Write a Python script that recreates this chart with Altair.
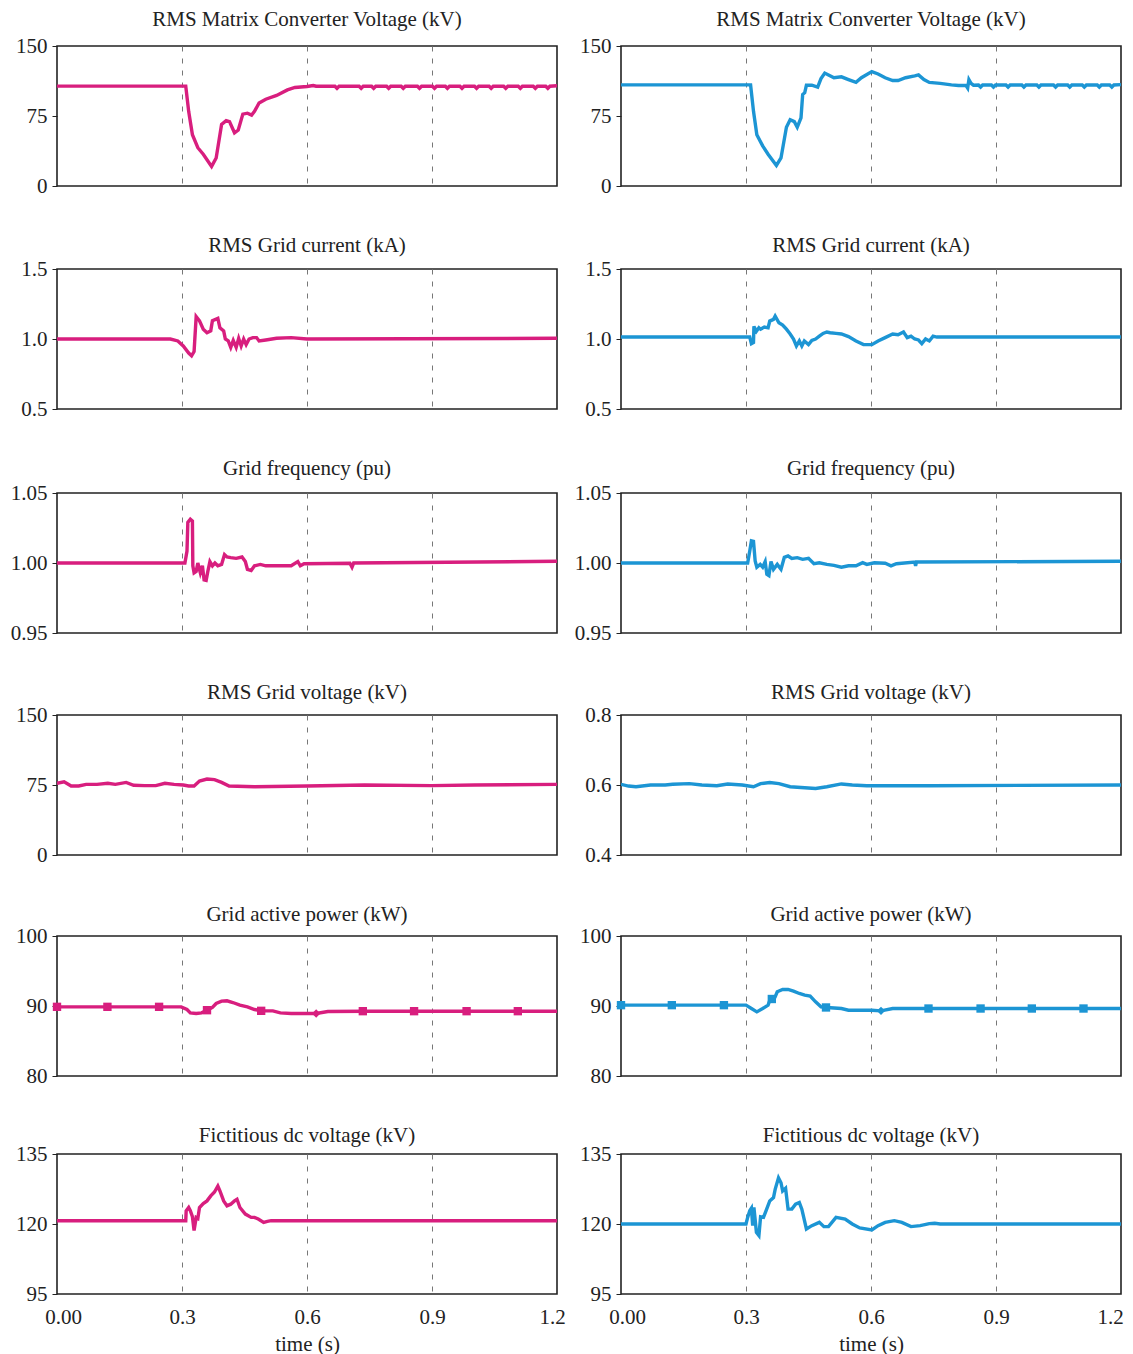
import altair as alt
import pandas as pd

MAGENTA = "#d81e7e"
BLUE = "#1c95d4"
FONT = "Liberation Serif"
INK = "#222222"

time_ticks = [0.0, 0.3, 0.6, 0.9, 1.2]

titles = [
    "RMS Matrix Converter Voltage (kV)",
    "RMS Grid current (kA)",
    "Grid frequency (pu)",
    "RMS Grid voltage (kV)",
    "Grid active power (kW)",
    "Fictitious dc voltage (kV)",
]

# ---------- Row 1: RMS Matrix Converter Voltage ----------
r1l_t = [0.000, 0.309, 0.316, 0.325, 0.338, 0.351, 0.371, 0.382, 0.395, 0.406, 0.414, 0.426, 0.435,
         0.446, 0.457, 0.467, 0.474, 0.485, 0.501, 0.527, 0.553, 0.571, 0.600, 0.615, 0.622,
         0.667, 0.672, 0.677, 0.725, 0.730, 0.735, 0.755, 0.760, 0.765, 0.791, 0.796, 0.801,
         0.826, 0.831, 0.836, 0.865, 0.870, 0.875, 0.901, 0.906, 0.911, 0.932, 0.937, 0.942,
         0.967, 0.972, 0.977, 1.002, 1.007, 1.012, 1.037, 1.042, 1.047, 1.072, 1.077, 1.082,
         1.107, 1.112, 1.117, 1.143, 1.148, 1.153, 1.173, 1.178, 1.183, 1.200]
r1l_v = [107.0, 107.0, 80.0, 55.0, 41.0, 34.0, 21.0, 30.0, 66.0, 70.0, 69.0, 57.0, 60.0,
         77.0, 78.0, 76.0, 80.0, 89.0, 93.0, 97.0, 103.0, 105.6, 106.6, 107.6, 106.9,
         106.9, 104.7, 106.9, 106.9, 104.7, 106.9, 106.9, 104.7, 106.9, 106.9, 104.7, 106.9,
         106.9, 104.7, 106.9, 106.9, 104.7, 106.9, 106.9, 104.7, 106.9, 106.9, 104.7, 106.9,
         106.9, 104.7, 106.9, 106.9, 104.7, 106.9, 106.9, 104.7, 106.9, 106.9, 104.7, 106.9,
         106.9, 104.7, 106.9, 106.9, 104.7, 106.9, 106.9, 104.7, 106.9, 107.4]

r1r_t = [0.000, 0.311, 0.318, 0.326, 0.340, 0.353, 0.373, 0.384, 0.397, 0.406, 0.416, 0.423, 0.432,
         0.436, 0.441, 0.445, 0.458, 0.472, 0.480, 0.489, 0.498, 0.511, 0.529, 0.546, 0.564,
         0.577, 0.602, 0.617, 0.634, 0.652, 0.665, 0.683, 0.705, 0.714, 0.727, 0.740, 0.766,
         0.793, 0.810, 0.828, 0.832, 0.835, 0.840, 0.846,
         0.858, 0.863, 0.868, 0.889, 0.894, 0.899, 0.924, 0.929, 0.934, 0.962, 0.967, 0.972,
         0.998, 1.003, 1.008, 1.038, 1.043, 1.048, 1.072, 1.077, 1.082, 1.107, 1.112, 1.117,
         1.143, 1.148, 1.153, 1.173, 1.178, 1.183, 1.200]
r1r_v = [108.4, 108.4, 80.0, 55.0, 43.0, 34.0, 22.0, 30.0, 63.0, 71.0, 69.0, 63.0, 73.0,
         98.0, 100.0, 108.0, 108.0, 106.0, 115.0, 121.0, 119.0, 116.0, 117.0, 114.0, 111.0,
         116.0, 122.6, 120.0, 116.0, 113.0, 113.0, 116.0, 118.0, 119.0, 114.0, 111.0, 110.0,
         108.4, 107.7, 107.7, 105.0, 114.0, 110.0, 108.0,
         108.2, 106.0, 108.2, 108.2, 106.0, 108.2, 108.2, 106.0, 108.2, 108.2, 106.0, 108.2,
         108.2, 106.0, 108.2, 108.2, 106.0, 108.2, 108.2, 106.0, 108.2, 108.2, 106.0, 108.2,
         108.2, 106.0, 108.2, 108.2, 106.0, 108.2, 108.6]

# ---------- Row 2: RMS Grid current ----------
r2l_t = [0.000, 0.272, 0.290, 0.303, 0.316, 0.323, 0.329, 0.334, 0.342, 0.351,
         0.360, 0.369, 0.373, 0.386, 0.391, 0.400, 0.404, 0.411, 0.417, 0.423,
         0.430, 0.436, 0.442, 0.448, 0.454, 0.461, 0.470, 0.479, 0.485, 0.501,
         0.527, 0.562, 0.600, 1.200]
r2l_v = [1.000, 1.000, 0.986, 0.950, 0.900, 0.880, 0.910, 1.160, 1.130, 1.070,
         1.045, 1.058, 1.130, 1.147, 1.080, 1.058, 1.000, 0.986, 0.940, 0.990,
         0.940, 1.005, 0.950, 1.000, 0.960, 1.000, 1.010, 1.010, 0.986, 0.993,
         1.005, 1.010, 1.000, 1.005]

r2r_t = [0.000, 0.309, 0.313, 0.318, 0.319, 0.325, 0.331, 0.335, 0.344, 0.353,
         0.357, 0.366, 0.370, 0.379, 0.388, 0.397, 0.406, 0.414, 0.421, 0.428,
         0.434, 0.440, 0.450, 0.458, 0.467, 0.476, 0.485, 0.494, 0.502, 0.516,
         0.529, 0.546, 0.564, 0.582, 0.602, 0.617, 0.634, 0.652, 0.665, 0.678,
         0.687, 0.696, 0.705, 0.714, 0.722, 0.731, 0.740, 0.749, 0.758, 1.200]
r2r_v = [1.014, 1.014, 0.967, 0.975, 1.090, 1.055, 1.080, 1.070, 1.085, 1.080,
         1.128, 1.140, 1.163, 1.116, 1.100, 1.070, 1.036, 1.000, 0.950, 0.986,
         0.950, 0.986, 0.960, 0.990, 1.000, 1.020, 1.040, 1.050, 1.045, 1.040,
         1.036, 1.017, 0.986, 0.960, 0.960, 0.986, 1.010, 1.036, 1.030, 1.050,
         1.010, 1.020, 1.000, 0.993, 0.967, 1.000, 0.986, 1.020, 1.014, 1.014]

# ---------- Row 3: Grid frequency ----------
r3l_t = [0.000, 0.307, 0.312, 0.314, 0.320, 0.325, 0.326, 0.329, 0.334, 0.338,
         0.344, 0.349, 0.353, 0.358, 0.362, 0.367, 0.373, 0.379, 0.386, 0.395,
         0.402, 0.408, 0.417, 0.430, 0.444, 0.452, 0.457, 0.466, 0.474, 0.488,
         0.501, 0.562, 0.578, 0.584, 0.593, 0.703, 0.708, 0.712, 1.200]
r3l_v = [1.0000, 1.0000, 1.0086, 1.0290, 1.0313, 1.0300, 0.9980, 0.9930, 0.9940, 1.0000,
         0.9930, 0.9980, 0.9880, 0.9876, 0.9940, 1.0010, 0.9980, 1.0000, 0.9980, 0.9990,
         1.0060, 1.0043, 1.0038, 1.0033, 1.0043, 1.0010, 0.9955, 0.9947, 0.9980, 0.9990,
         0.9980, 0.9980, 1.0010, 0.9980, 0.9995, 0.9998, 0.9970, 1.0000, 1.0012]

r3r_t = [0.000, 0.304, 0.309, 0.313, 0.318, 0.322, 0.326, 0.334, 0.340, 0.346,
         0.350, 0.355, 0.360, 0.366, 0.375, 0.384, 0.392, 0.401, 0.410, 0.423,
         0.436, 0.450, 0.463, 0.476, 0.494, 0.511, 0.529, 0.546, 0.564, 0.580,
         0.590, 0.608, 0.634, 0.648, 0.661, 0.705, 0.707, 0.709, 1.200]
r3r_v = [1.0000, 1.0000, 1.0086, 1.0158, 1.0155, 1.0014, 0.9970, 0.9990, 0.9970, 1.0010,
         0.9920, 0.9910, 1.0010, 0.9955, 0.9990, 0.9955, 1.0040, 1.0050, 1.0033, 1.0038,
         1.0026, 1.0033, 0.9995, 1.0002, 0.9990, 0.9983, 0.9970, 0.9980, 0.9980, 1.0002,
         0.9990, 1.0002, 0.9998, 0.9980, 0.9995, 1.0007, 0.9980, 1.0007, 1.0012]

# ---------- Row 4: RMS Grid voltage ----------
r4l_t = [0.000, 0.017, 0.034, 0.052, 0.070, 0.096, 0.122, 0.140, 0.166, 0.184,
         0.210, 0.237, 0.259, 0.281, 0.303, 0.316, 0.329, 0.342, 0.360, 0.378,
         0.395, 0.413, 0.474, 0.600, 0.738, 0.899, 1.002, 1.200]
r4l_v = [76.8, 78.5, 73.9, 73.9, 75.7, 75.7, 76.8, 75.7, 77.8, 74.7,
         74.3, 74.3, 76.8, 75.7, 75.0, 73.9, 73.9, 79.2, 81.4, 80.7,
         77.8, 73.9, 73.2, 74.0, 75.0, 74.3, 75.0, 75.7]

r4r_t = [0.000, 0.018, 0.036, 0.071, 0.106, 0.124, 0.164, 0.194, 0.230, 0.256,
         0.291, 0.318, 0.335, 0.357, 0.379, 0.406, 0.432, 0.467, 0.494, 0.529,
         0.555, 0.590, 0.740, 1.200]
r4r_v = [0.602, 0.597, 0.595, 0.600, 0.600, 0.602, 0.604, 0.600, 0.598, 0.603,
         0.600, 0.595, 0.604, 0.607, 0.604, 0.595, 0.593, 0.590, 0.595, 0.603,
         0.600, 0.598, 0.598, 0.600]

# ---------- Row 5: Grid active power ----------
r5l_t = [0.000, 0.298, 0.312, 0.320, 0.334, 0.347, 0.360, 0.373, 0.382, 0.395, 0.408, 0.422,
         0.439, 0.457, 0.474, 0.492, 0.518, 0.536, 0.562, 0.622, 0.650, 0.738, 1.200]
r5l_v = [89.88, 89.88, 89.50, 89.02, 88.93, 89.02, 89.40, 89.79, 90.36, 90.69, 90.74, 90.50,
         90.12, 89.88, 89.50, 89.31, 89.31, 89.02, 88.93, 88.93, 89.21, 89.26, 89.26]
r5l_mt = [0.000, 0.121, 0.245, 0.360, 0.490, 0.622, 0.734, 0.857, 0.983, 1.106]
r5l_mv = [89.88, 89.88, 89.88, 89.40, 89.31, 88.93, 89.26, 89.26, 89.26, 89.26]
r5l_ms = ["square", "square", "square", "square", "square", "diamond", "square", "square", "square", "square"]

r5r_t = [0.000, 0.300, 0.313, 0.326, 0.340, 0.353, 0.357, 0.362, 0.370, 0.375, 0.388, 0.401,
         0.414, 0.428, 0.441, 0.454, 0.467, 0.480, 0.494, 0.529, 0.546, 0.602, 0.624, 0.652, 1.200]
r5r_v = [90.12, 90.12, 89.64, 89.16, 89.64, 90.12, 90.80, 91.31, 91.31, 92.03, 92.36, 92.36,
         92.12, 91.79, 91.55, 91.41, 90.60, 89.88, 89.79, 89.64, 89.40, 89.40, 89.31, 89.64, 89.64]
r5r_mt = [0.000, 0.122, 0.247, 0.362, 0.492, 0.624, 0.738, 0.863, 0.986, 1.110]
r5r_mv = [90.12, 90.12, 90.12, 91.00, 89.79, 89.31, 89.64, 89.64, 89.64, 89.64]
r5r_ms = ["square", "square", "square", "square", "square", "diamond", "square", "square", "square", "square"]

# ---------- Row 6: Fictitious dc voltage ----------
r6l_t = [0.000, 0.309, 0.310, 0.316, 0.320, 0.325, 0.329, 0.334, 0.338, 0.342,
         0.351, 0.360, 0.369, 0.378, 0.386, 0.391, 0.400, 0.408, 0.417, 0.426,
         0.432, 0.439, 0.452, 0.466, 0.474, 0.483, 0.496, 0.505, 0.514, 1.200]
r6l_v = [121.18, 121.18, 124.72, 125.90, 124.72, 122.59, 117.64, 122.36, 122.00, 125.90,
         127.31, 128.25, 130.02, 131.44, 133.56, 131.79, 128.25, 126.49, 127.08, 128.25,
         128.84, 125.90, 123.54, 122.36, 122.36, 121.77, 120.59, 120.94, 121.18, 121.18]

r6r_t = [0.000, 0.300, 0.304, 0.309, 0.313, 0.316, 0.319, 0.325, 0.331, 0.335,
         0.342, 0.348, 0.357, 0.366, 0.370, 0.378, 0.384, 0.388, 0.395, 0.401,
         0.410, 0.419, 0.428, 0.434, 0.445, 0.458, 0.476, 0.487, 0.498, 0.516,
         0.538, 0.555, 0.573, 0.602, 0.617, 0.634, 0.656, 0.674, 0.696, 0.718,
         0.740, 0.753, 0.766, 1.200]
r6r_v = [120.00, 120.00, 122.36, 124.72, 125.66, 119.41, 125.90, 117.05, 115.87, 122.59,
         122.36, 124.72, 128.25, 129.43, 132.38, 136.51, 134.74, 131.79, 132.74, 125.31,
         125.31, 127.08, 127.67, 125.31, 118.23, 119.41, 120.59, 119.06, 119.06, 122.36,
         121.77, 120.00, 118.58, 117.88, 119.41, 120.59, 121.18, 120.59, 119.06, 119.41,
         120.12, 120.24, 120.00, 120.00]

# y-axis specs per panel: (domain, tick values, format, labelExpr)
y_r1 = ([0, 150], [0, 75, 150], "d", None)
y_r2 = ([0.5, 1.5], [0.5, 1.0, 1.5], ".1f", None)
y_r3 = ([0.95, 1.05], [0.95, 1.0, 1.05], ".2f", None)
y_r4l = ([0, 150], [0, 75, 150], "d", None)
y_r4r = ([0.4, 0.8], [0.4, 0.6, 0.8], ".1f", None)
y_r5 = ([80, 100], [80, 90, 100], "d", None)
y_r6 = ([95, 145], [95, 120, 145], "d", "datum.value == 145 ? '135' : format(datum.value, 'd')")

title_offsets = [5, 2, 3, 1, 0, -3]


def x_axis(bottom, last_shift):
    common = dict(
        values=time_ticks,
        grid=True,
        gridDash=[5, 7],
        gridColor="#777777",
        gridWidth=1,
        gridOpacity={"condition": {"test": "datum.value == 0 || datum.value == 1.2", "value": 0}, "value": 1},
        ticks=False,
        domain=False,
    )
    if bottom:
        return alt.Axis(
            labelExpr="datum.value == 0 ? '0.00' : format(datum.value, '.1f')",
            labelFlush=False,
            labelOffset={"condition": [{"test": "datum.value == 0", "value": 6},
                                       {"test": "datum.value == 1.2", "value": last_shift}], "value": 0},
            labelPadding=12,
            titlePadding=6,
            title="time (s)",
            **common,
        )
    return alt.Axis(labels=False, title=None, **common)


def y_axis(spec):
    dom, vals, fmt, lexpr = spec
    kw = dict(values=vals, format=fmt, grid=False, domain=False, tickSize=5, tickColor=INK,
              labelPadding=5, title=None, minExtent=48, maxExtent=48)
    if lexpr:
        kw["labelExpr"] = lexpr
    return alt.Axis(**kw)


def panel(t, v, color, title, yspec, offset, bottom=False, last_shift=-5, mt=None, mv=None, ms=None):
    dom = yspec[0]
    df = pd.DataFrame({"t": t, "v": v})
    xenc = alt.X("t:Q", scale=alt.Scale(domain=[0, 1.2], nice=False, zero=False),
                 axis=x_axis(bottom, last_shift))
    yenc = alt.Y("v:Q", scale=alt.Scale(domain=dom, nice=False, zero=False), axis=y_axis(yspec))
    line = alt.Chart(df).mark_line(color=color, strokeWidth=3.4, clip=True).encode(x=xenc, y=yenc)
    ch = line
    if mt is not None:
        mdf = pd.DataFrame({"t": mt, "v": mv, "shape": ms})
        pts = alt.Chart(mdf).mark_point(filled=True, opacity=1, color=color, size=70).encode(
            x=xenc, y=yenc, shape=alt.Shape("shape:N", scale=None))
        ch = alt.layer(line, pts)
    return ch.properties(
        width=500, height=140,
        title=alt.TitleParams(text=title, font=FONT, fontSize=21, fontWeight="normal",
                              color=INK, offset=offset),
    )


rows = [
    (panel(r1l_t, r1l_v, MAGENTA, titles[0], y_r1, title_offsets[0]),
     panel(r1r_t, r1r_v, BLUE, titles[0], y_r1, title_offsets[0])),
    (panel(r2l_t, r2l_v, MAGENTA, titles[1], y_r2, title_offsets[1]),
     panel(r2r_t, r2r_v, BLUE, titles[1], y_r2, title_offsets[1])),
    (panel(r3l_t, r3l_v, MAGENTA, titles[2], y_r3, title_offsets[2]),
     panel(r3r_t, r3r_v, BLUE, titles[2], y_r3, title_offsets[2])),
    (panel(r4l_t, r4l_v, MAGENTA, titles[3], y_r4l, title_offsets[3]),
     panel(r4r_t, r4r_v, BLUE, titles[3], y_r4r, title_offsets[3])),
    (panel(r5l_t, r5l_v, MAGENTA, titles[4], y_r5, title_offsets[4], mt=r5l_mt, mv=r5l_mv, ms=r5l_ms),
     panel(r5r_t, r5r_v, BLUE, titles[4], y_r5, title_offsets[4], mt=r5r_mt, mv=r5r_mv, ms=r5r_ms)),
    (panel(r6l_t, r6l_v, MAGENTA, titles[5], y_r6, title_offsets[5], bottom=True, last_shift=-5),
     panel(r6r_t, r6r_v, BLUE, titles[5], y_r6, title_offsets[5], bottom=True, last_shift=-11)),
]

row_charts = [alt.hconcat(a, b, spacing=64, bounds="flush") for a, b in rows]

chart = alt.vconcat(*row_charts, spacing=37).properties(
    padding={"left": 0, "top": 0, "right": 0, "bottom": 0}
).configure_view(
    stroke=INK, strokeWidth=1.6
).configure_axis(
    labelFont=FONT, titleFont=FONT, labelFontSize=21, titleFontSize=21,
    labelColor=INK, titleColor=INK, titleFontWeight="normal"
).configure_title(
    font=FONT, fontSize=21, fontWeight="normal", color=INK
)

chart.save("out.html", embed_options={"renderer": "svg", "actions": False})
